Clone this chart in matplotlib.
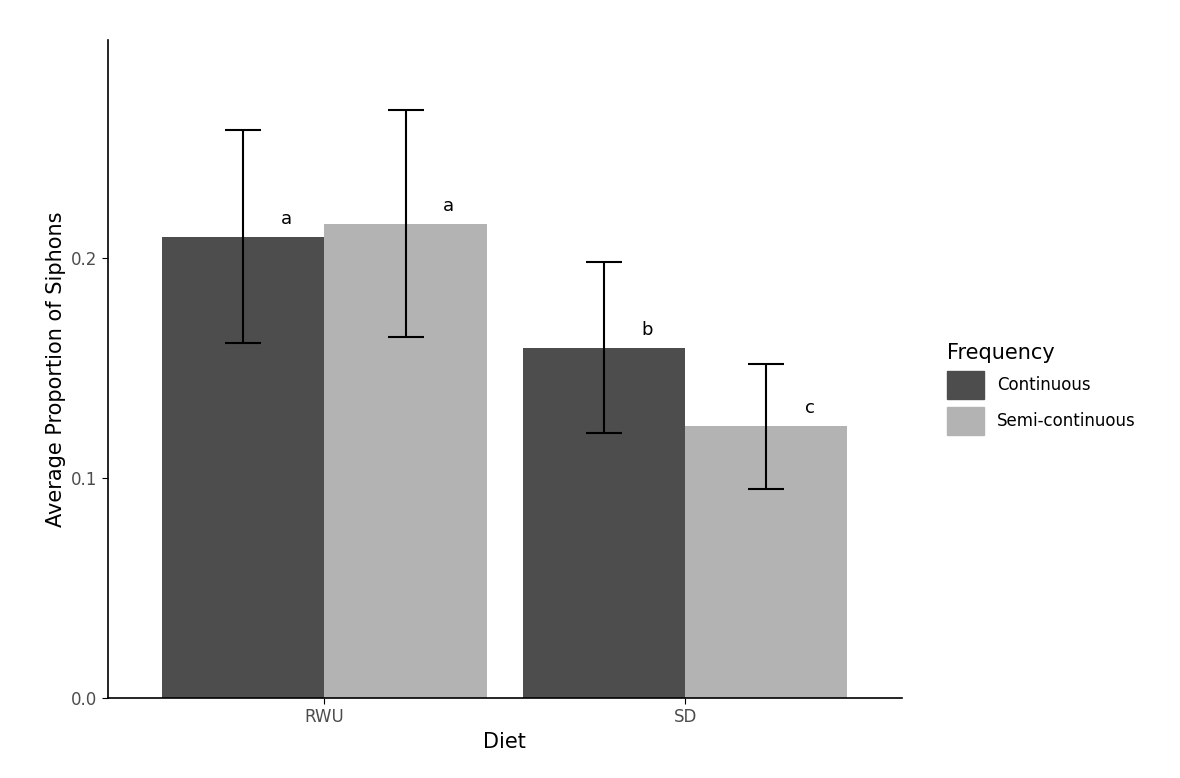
import numpy as np
import matplotlib.pyplot as plt
from matplotlib.patches import Patch

diets = ["RWU", "SD"]
freqs = ["Continuous", "Semi-continuous"]
means = {"Continuous": [0.2095, 0.159], "Semi-continuous": [0.2155, 0.1236]}
upper = {"Continuous": [0.258, 0.198], "Semi-continuous": [0.267, 0.152]}
lower = {"Continuous": [0.1614, 0.1205], "Semi-continuous": [0.164, 0.095]}
letters = {"Continuous": ["a", "b"], "Semi-continuous": ["a", "c"]}
colors = {"Continuous": "#4d4d4d", "Semi-continuous": "#b3b3b3"}

fig = plt.figure(figsize=(11.8, 7.78), dpi=100)
ax = fig.add_axes([0.0915, 0.1028, 0.6725, 0.8458])

x = np.array([1, 2])
w = 0.45
for i, f in enumerate(freqs):
    xs = x + (i - 0.5) * w
    m = np.array(means[f])
    ax.bar(xs, m, width=w, color=colors[f])
    lo = m - np.array(lower[f])
    hi = np.array(upper[f]) - m
    ax.errorbar(xs, m, yerr=[lo, hi], fmt="none", ecolor="black",
                elinewidth=1.5, capsize=13, capthick=1.5)
    for xx, mm, lab in zip(xs, m, letters[f]):
        ax.text(xx + 0.12, mm + 0.004, lab, ha="center", va="bottom", fontsize=13)

ax.set_xlim(0.4, 2.6)
ax.set_ylim(0, 0.299)
ax.set_xticks(x)
ax.set_xticklabels(diets)
ax.set_yticks([0.0, 0.1, 0.2])
ax.set_yticklabels(["0.0", "0.1", "0.2"])
ax.tick_params(labelsize=12, labelcolor="#4d4d4d", length=4)
for s in ["top", "right"]:
    ax.spines[s].set_visible(False)
for s in ["left", "bottom"]:
    ax.spines[s].set_linewidth(1.2)
ax.set_xlabel("Diet", fontsize=15)
ax.set_ylabel("Average Proportion of Siphons", fontsize=15)

handles = [Patch(color=colors[f]) for f in freqs]
fig.legend(handles, freqs, title="Frequency", loc="center left",
           bbox_to_anchor=(0.79, 0.5), frameon=False, fontsize=12,
           title_fontsize=15, handlelength=2.2, handleheight=2.2,
           alignment="left")

fig.savefig("out.png", dpi=100)
